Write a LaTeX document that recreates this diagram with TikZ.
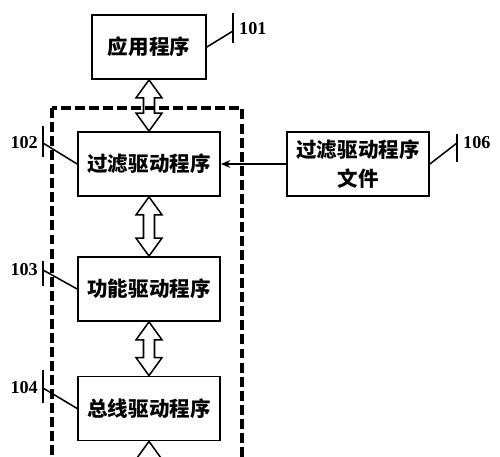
\documentclass[tikz,border=0pt]{standalone}
\usepackage{fontspec}
\setmainfont{Liberation Serif}
\newfontfamily\cjk{Noto Sans CJK SC}
\usetikzlibrary{calc,arrows.meta}

% Doppelpfeil (Blockpfeil) zwischen zwei Ankern
\newcommand{\doppelpfeil}[2]{%
    \path #1 coordinate (dpo) #2 coordinate (dpu);
    \draw[blockpfeil] (dpo) -- ++(13,18) -- ++(-7.5,0) -- ($(dpu)+(5.5,-18)$) -- ++(7.5,0) -- (dpu)
        -- ++(-13,-18) -- ++(7.5,0) -- ($(dpo)+(-5.5,18)$) -- ++(-7.5,0) -- cycle;}

\begin{document}
\begin{tikzpicture}[x=0.03cm, y=-0.03cm, >={Stealth[length=8pt, width=6.5pt]},
    % Stil für die Kästen (Programme)
        prog/.style={rectangle, draw=black, line width=1.5pt, font=\cjk\bfseries\fontsize{17.5}{25}\selectfont, align=center, minimum width=4.26cm, minimum height=1.92cm},
    % Stil für die Blockpfeile
        blockpfeil/.style={draw=black, line width=1.3pt, line join=miter},
    % Stil für die Bezugszeichen
        marke/.style={draw=black, line width=1.3pt},
        nummer/.style={font=\bfseries\fontsize{15.5}{16}\selectfont, inner sep=0pt},
    % Stil für den gestrichelten Rahmen
        rahmen/.style={draw=black, line width=3pt, dash pattern=on 8.5pt off 3.5pt}]

        \useasboundingbox (0,0) rectangle (500,457);
        \clip (0,0) rectangle (500,457);

        % Kästen
        \node[prog, minimum width=3.42cm] (p101) at (149,47) {应用程序};
        \node[prog] (p102) at (149,164) {过滤驱动程序};
        \node[prog] (p103) at (149,289) {功能驱动程序};
        \node[prog] (p104) at (149,408.5) {总线驱动程序};
        \node[prog] (p106) at (358,164) {过滤驱动程序\\文件};
        \node[inner sep=0pt] (unten) at (149,530) {};

        % Blockpfeile zwischen den Kästen
        \doppelpfeil{(p101.south)}{(p102.north)}
        \doppelpfeil{(p102.south)}{(p103.north)}
        \doppelpfeil{(p103.south)}{(p104.north)}
        \doppelpfeil{(p104.south)}{(unten.north)}

        % Pfeil von der Datei zum Filtertreiber
        \draw[->, line width=1.3pt] (p106) -- (p102);

        % Bezugszeichen
        \coordinate (m101) at (233,31);
        \draw[marke] (233,13) -- (233,43);
        \draw[marke] (p101.east) -- (m101);
        \node[nummer, anchor=west] (n101) at (239,29) {101};

        \coordinate (m106) at (457,143);
        \draw[marke] (457,134) -- (457,162);
        \draw[marke] (p106.east) -- (m106);
        \node[nummer, anchor=west] (n106) at (463,143) {106};

        \foreach \nr/\ta/\tb/\ly in {102/126/157/143, 103/261/286/270, 104/370/403/388}{
            \coordinate (m\nr) at (43,\ly);
            \draw[marke] (43,\ta) -- (43,\tb);
            \draw[marke] (m\nr) -- (p\nr.west);
            \node[nummer, anchor=east] (n\nr) at (38,\ly) {\nr};
        }

        % gestrichelter Rahmen
        \draw[rahmen] (52,108) rectangle (242,560);
    \end{tikzpicture}
\end{document}
